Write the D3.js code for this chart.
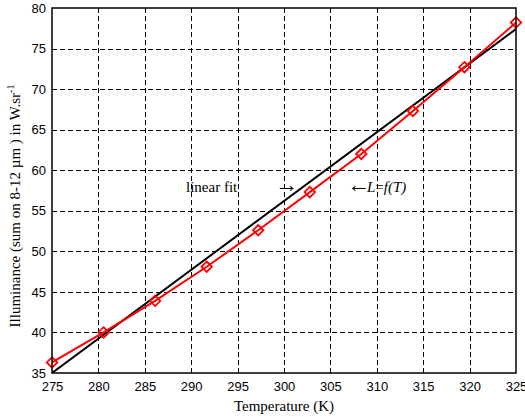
<!DOCTYPE html>
<html>
<head>
<meta charset="utf-8">
<script src="https://cdn.jsdelivr.net/npm/d3@7"></script>
<style>
  body { margin: 0; background: #fff; }
</style>
</head>
<body>
<div id="chart"></div>
<script>
// measured curve L = f(T)
let temps = [275, 280.56, 286.11, 291.67, 297.22, 302.78, 308.33, 313.89, 319.44, 325]
let lum = [36.3, 40.0, 43.9, 48.1, 52.6, 57.3, 62.0, 67.3, 72.7, 78.2]

// linear fit end points
let fitT = [275, 325]
let fitL = [35.0, 77.4]

let xTicks = [275, 280, 285, 290, 295, 300, 305, 310, 315, 320, 325]
let yTicks = [35, 40, 45, 50, 55, 60, 65, 70, 75, 80]

let width = 525
let height = 417

// plot box
let pLeft = 52, pRight = 516, pTop = 8, pBottom = 373

let serif = "'Liberation Serif', 'Times New Roman', serif"
let sans = "'Liberation Sans', Arial, sans-serif"

let x = d3.scaleLinear().domain([275, 325]).range([pLeft, pRight])
let y = d3.scaleLinear().domain([35, 80]).range([pBottom, pTop])

let svg = d3.select("#chart").append("svg")
  .attr("width", width)
  .attr("height", height)
  .attr("viewBox", [0, 0, width, height])

// grid
svg.append("g")
  .selectAll("line")
  .data(xTicks.slice(1, -1))
  .join("line")
  .attr("x1", d => Math.round(x(d)) + 0.5).attr("x2", d => Math.round(x(d)) + 0.5)
  .attr("y1", pTop).attr("y2", pBottom)
  .attr("stroke", "#000").attr("stroke-width", 1).attr("stroke-dasharray", "5,3")

svg.append("g")
  .selectAll("line")
  .data(yTicks.slice(1, -1))
  .join("line")
  .attr("y1", d => Math.round(y(d)) + 0.5).attr("y2", d => Math.round(y(d)) + 0.5)
  .attr("x1", pLeft).attr("x2", pRight)
  .attr("stroke", "#000").attr("stroke-width", 1).attr("stroke-dasharray", "5,3")

// axes, ticks hidden under the grid
let xAxis = svg.append("g")
  .attr("transform", `translate(0,${pBottom})`)
  .call(d3.axisBottom(x).tickValues(xTicks).tickSize(0).tickPadding(9).tickFormat(d3.format("d")))
xAxis.select(".domain").remove()
xAxis.selectAll("text").attr("font-family", sans).attr("font-size", 13).attr("fill", "#000")

let yAxis = svg.append("g")
  .attr("transform", `translate(${pLeft},0)`)
  .call(d3.axisLeft(y).tickValues(yTicks).tickSize(0).tickPadding(6).tickFormat(d3.format("d")))
yAxis.select(".domain").remove()
yAxis.selectAll("text").attr("font-family", sans).attr("font-size", 13).attr("fill", "#000")

// data
svg.append("clipPath").attr("id", "clip")
  .append("rect").attr("x", pLeft).attr("y", pTop).attr("width", pRight - pLeft).attr("height", pBottom - pTop)

let line = d3.line().x(d => x(d[0])).y(d => y(d[1]))

svg.append("path")
  .datum(fitT.map((t, i) => [t, fitL[i]]))
  .attr("d", line)
  .attr("fill", "none").attr("stroke", "#000").attr("stroke-width", 2)
  .attr("clip-path", "url(#clip)")

svg.append("path")
  .datum(temps.map((t, i) => [t, lum[i]]))
  .attr("d", line)
  .attr("fill", "none").attr("stroke", "#ff0000").attr("stroke-width", 2)

let diamond = d3.symbol().type(d3.symbolDiamond2).size(70)
svg.append("g")
  .selectAll("path")
  .data(temps.map((t, i) => [t, lum[i]]))
  .join("path")
  .attr("d", diamond)
  .attr("transform", d => `translate(${x(d[0])},${y(d[1])})`)
  .attr("fill", "none").attr("stroke", "#ff0000").attr("stroke-width", 1.8)

// box
svg.append("rect")
  .attr("x", pLeft).attr("y", pTop).attr("width", pRight - pLeft).attr("height", pBottom - pTop)
  .attr("fill", "none").attr("stroke", "#000").attr("stroke-width", 1.5)

// annotations
svg.append("text")
  .attr("x", 186).attr("y", 192)
  .attr("font-family", serif).attr("font-size", 15)
  .text("linear fit")

svg.append("text")
  .attr("x", 275).attr("y", 192)
  .attr("font-family", serif).attr("font-size", 23)
  .text("\u2192")

let lf = svg.append("text")
  .attr("x", 347).attr("y", 192)
  .attr("font-family", serif).attr("font-size", 15)
lf.append("tspan").attr("font-size", 23).text("\u2190")
lf.append("tspan").attr("font-style", "italic").attr("dx", -3).text("L")
lf.append("tspan").text("=")
lf.append("tspan").attr("font-style", "italic").text("f(T)")

// axis labels
svg.append("text")
  .attr("x", (pLeft + pRight) / 2).attr("y", 411)
  .attr("text-anchor", "middle")
  .attr("font-family", serif).attr("font-size", 15)
  .text("Temperature (K)")

let yl = svg.append("text")
  .attr("transform", "translate(20,206) rotate(-90)")
  .attr("text-anchor", "middle")
  .attr("font-family", serif).attr("font-size", 15)
yl.append("tspan").text("Illuminance (sum on 8-12 \u00b5m ) in W.sr")
yl.append("tspan").attr("font-size", 10).attr("dy", -6).text("-1")
</script>
</body>
</html>
